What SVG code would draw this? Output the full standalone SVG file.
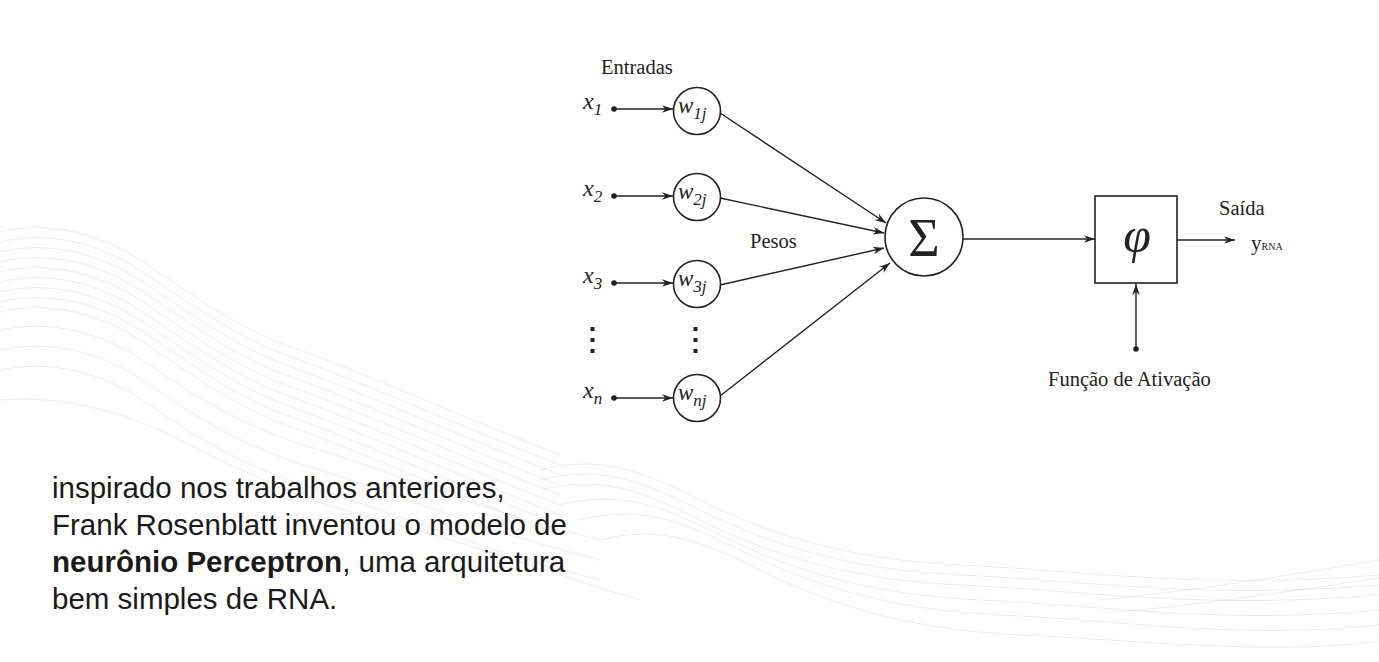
<svg xmlns="http://www.w3.org/2000/svg" width="1379" height="662" viewBox="0 0 1379 662">
<defs>
<style>
.t{font-family:"Liberation Serif","Times New Roman",serif;fill:#222}
.it{font-style:italic}
.lb{font-size:20.5px}
.ln{stroke:#222;stroke-width:1.4;fill:none}
.nd{stroke:#222;stroke-width:1.6;fill:#fff}
.wv{stroke:#dcdcdc;stroke-width:0.6;fill:none}
.body{font-family:"Liberation Sans",Arial,sans-serif;font-size:29.5px;fill:#1a1a1a}
</style>
<marker id="ah" viewBox="0 0 10 10" refX="10" refY="5" markerWidth="11" markerHeight="11" markerUnits="userSpaceOnUse" orient="auto">
<path d="M0,1.5 L10,5 L0,8.5 L3,5 Z" fill="#222"/>
</marker>
</defs>
<rect width="1379" height="662" fill="#fff"/>
<g id="background">
<g id="wave-left">
<path class="wv" d="M0,232 C40,222 90,228 140,260 C200,300 240,330 300,350 C380,380 470,420 560,455"/>
<path class="wv" d="M0,242 C40,232 90,238 140,270 C200,310 240,340 300,360 C380,390 470,430 560,465"/>
<path class="wv" d="M0,252 C40,242 90,248 140,280 C200,320 240,350 300,370 C380,400 470,440 560,475"/>
<path class="wv" d="M0,262 C40,252 90,258 140,290 C200,330 240,360 300,380 C380,410 470,450 560,485"/>
<path class="wv" d="M0,272 C40,262 90,268 140,300 C200,340 240,370 300,390 C380,420 470,460 560,495"/>
<path class="wv" d="M0,282 C40,272 90,278 140,310 C200,350 240,380 300,400 C380,430 470,470 560,505"/>
<path class="wv" d="M0,292 C40,282 90,288 140,320 C200,360 240,390 300,410 C380,440 470,480 560,515"/>
<path class="wv" d="M0,302 C40,292 90,298 140,330 C200,370 240,400 300,420 C380,450 470,490 560,525"/>
<path class="wv" d="M0,312 C40,302 90,308 140,340 C200,380 240,410 300,430 C380,460 470,500 560,535"/>
<path class="wv" d="M0,330 C50,320 100,330 150,365 C200,400 250,430 320,450 C400,475 480,510 600,540"/>
<path class="wv" d="M0,350 C50,340 100,350 150,385 C200,420 250,450 320,470 C400,495 480,530 600,560"/>
<path class="wv" d="M0,370 C50,360 100,370 150,405 C200,440 250,470 320,490 C400,515 480,550 600,580"/>
<path class="wv" d="M0,400 C60,395 120,410 180,440 C240,470 300,500 380,520 C460,540 540,570 640,600"/>
</g>
<g id="wave-bottom">
<path class="wv" d="M540,470 C600,455 640,470 700,500 C780,540 860,560 960,565 C1080,570 1200,590 1379,575"/>
<path class="wv" d="M540,480 C600,465 640,480 700,510 C780,550 860,570 960,575 C1080,580 1200,600 1379,585"/>
<path class="wv" d="M540,490 C600,475 640,490 700,520 C780,560 860,580 960,585 C1080,590 1200,610 1379,595"/>
<path class="wv" d="M560,505 C620,490 660,505 720,535 C800,575 880,595 980,600 C1100,605 1220,625 1379,610"/>
<path class="wv" d="M580,520 C640,505 680,520 740,550 C820,590 900,610 1000,615 C1120,620 1240,640 1379,625"/>
<path class="wv" d="M600,540 C660,525 700,540 760,570 C840,610 920,630 1020,635 C1140,640 1260,655 1379,642"/>
<path class="wv" d="M1100,600 C1200,590 1290,575 1379,560"/>
<path class="wv" d="M1120,612 C1220,602 1300,590 1379,578"/>
</g>
</g>
<g id="connectors">
<circle cx="614" cy="109" r="2.8" fill="#222"/>
<line class="ln" x1="614" y1="109" x2="673" y2="109" marker-end="url(#ah)"/>
<circle cx="614" cy="196" r="2.8" fill="#222"/>
<line class="ln" x1="614" y1="196" x2="673" y2="196" marker-end="url(#ah)"/>
<circle cx="614" cy="283" r="2.8" fill="#222"/>
<line class="ln" x1="614" y1="283" x2="673" y2="283" marker-end="url(#ah)"/>
<circle cx="614" cy="398" r="2.8" fill="#222"/>
<line class="ln" x1="614" y1="398" x2="673" y2="398" marker-end="url(#ah)"/>
<line class="ln" x1="720" y1="113" x2="886" y2="223" marker-end="url(#ah)"/>
<line class="ln" x1="720" y1="198" x2="884" y2="233" marker-end="url(#ah)"/>
<line class="ln" x1="720" y1="285" x2="884" y2="248" marker-end="url(#ah)"/>
<line class="ln" x1="720" y1="396" x2="890" y2="263" marker-end="url(#ah)"/>
<line class="ln" x1="963" y1="239" x2="1095" y2="239" marker-end="url(#ah)"/>
<line class="ln" x1="1177" y1="240" x2="1235" y2="240" marker-end="url(#ah)"/>
<circle cx="1136" cy="349" r="2.8" fill="#222"/>
<line class="ln" x1="1136" y1="349" x2="1136" y2="284" marker-end="url(#ah)"/>
</g>
<g id="label-entradas"><text class="t lb" x="601" y="74">Entradas</text></g>
<g id="input-x1"><text class="t it" x="583" y="109" font-size="24">x<tspan font-size="17" dy="6">1</tspan></text></g>
<g id="input-x2"><text class="t it" x="583" y="196" font-size="24">x<tspan font-size="17" dy="6">2</tspan></text></g>
<g id="input-x3"><text class="t it" x="583" y="283" font-size="24">x<tspan font-size="17" dy="6">3</tspan></text></g>
<g id="input-xn"><text class="t it" x="583" y="398" font-size="24">x<tspan font-size="17" dy="6">n</tspan></text></g>
<g id="dots-left">
<rect x="590.5" y="327" width="4" height="4" fill="#222"/>
<rect x="590.5" y="338" width="4" height="4" fill="#222"/>
<rect x="590.5" y="349" width="4" height="4" fill="#222"/>
</g>
<g id="dots-right">
<rect x="693.5" y="327" width="4" height="4" fill="#222"/>
<rect x="693.5" y="338" width="4" height="4" fill="#222"/>
<rect x="693.5" y="349" width="4" height="4" fill="#222"/>
</g>
<g id="w1j"><circle class="nd" cx="697" cy="111" r="23.5"/><text class="t it" x="678" y="113" font-size="23">w<tspan font-size="17" dy="6">1j</tspan></text></g>
<g id="w2j"><circle class="nd" cx="697" cy="197" r="23.5"/><text class="t it" x="678" y="199" font-size="23">w<tspan font-size="17" dy="6">2j</tspan></text></g>
<g id="w3j"><circle class="nd" cx="697" cy="284" r="23.5"/><text class="t it" x="678" y="286" font-size="23">w<tspan font-size="17" dy="6">3j</tspan></text></g>
<g id="wnj"><circle class="nd" cx="697" cy="398" r="23.5"/><text class="t it" x="678" y="400" font-size="23">w<tspan font-size="17" dy="6">nj</tspan></text></g>
<g id="label-pesos"><text class="t lb" x="750" y="248">Pesos</text></g>
<g id="sigma"><circle class="nd" cx="924" cy="237" r="39"/><text class="t" x="924" y="256" font-size="54" text-anchor="middle">Σ</text></g>
<g id="phi"><rect class="nd" x="1095" y="196" width="82" height="87"/><text class="t it" x="1137" y="252" font-size="50" text-anchor="middle">φ</text></g>
<g id="label-saida"><text class="t lb" x="1219" y="215">Saída</text></g>
<g id="output-y"><text class="t" x="1251" y="250" font-size="21">y<tspan font-size="10">RNA</tspan></text></g>
<g id="label-funcao"><text class="t lb" x="1048" y="386">Função de Ativação</text></g>
<g id="caption">
<text class="body" x="52" y="498">inspirado nos trabalhos anteriores,</text>
<text class="body" x="52" y="535">Frank Rosenblatt inventou o modelo de</text>
<text class="body" x="52" y="572"><tspan font-weight="bold">neurônio Perceptron</tspan>, uma arquitetura</text>
<text class="body" x="52" y="609">bem simples de RNA.</text>
</g>
</svg>
